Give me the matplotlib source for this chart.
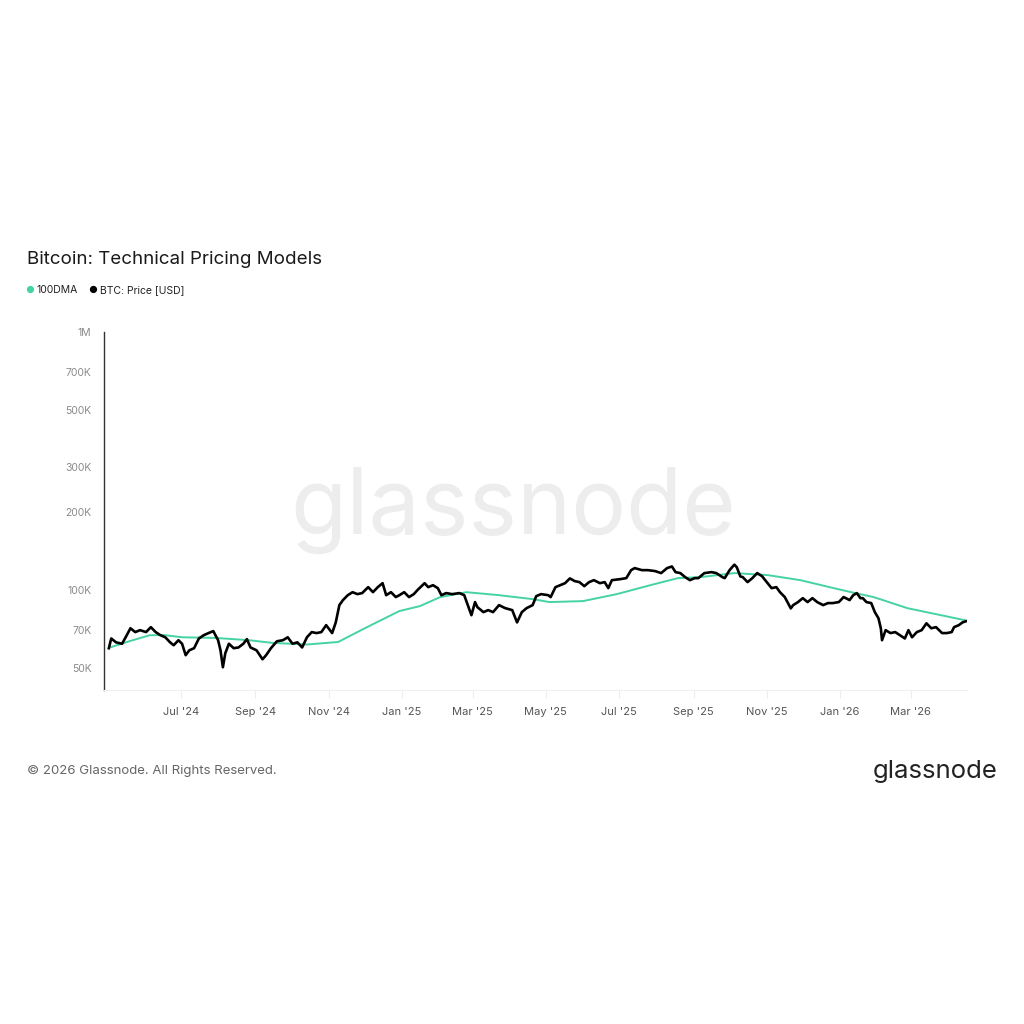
import matplotlib
matplotlib.use("Agg")
import matplotlib.pyplot as plt
import matplotlib.dates as mdates
import matplotlib.ticker as mticker
import pandas as pd

plt.rcParams['font.family'] = ['Inter', 'DejaVu Sans']

# BTC price (USD)
price_dates = [
    "2024-05-02", "2024-05-04", "2024-05-08", "2024-05-13", "2024-05-16", "2024-05-20",
    "2024-05-24", "2024-05-28", "2024-06-02", "2024-06-06", "2024-06-10", "2024-06-14",
    "2024-06-18", "2024-06-22", "2024-06-25", "2024-06-29", "2024-07-02", "2024-07-05",
    "2024-07-08", "2024-07-12", "2024-07-16", "2024-07-20", "2024-07-24", "2024-07-28",
    "2024-08-01", "2024-08-03", "2024-08-05", "2024-08-07", "2024-08-10", "2024-08-14",
    "2024-08-18", "2024-08-22", "2024-08-25", "2024-08-28", "2024-09-02", "2024-09-07",
    "2024-09-10", "2024-09-14", "2024-09-19", "2024-09-24", "2024-09-28", "2024-10-02",
    "2024-10-06", "2024-10-10", "2024-10-14", "2024-10-18", "2024-10-22", "2024-10-26",
    "2024-10-30", "2024-11-04", "2024-11-07", "2024-11-10", "2024-11-13", "2024-11-17",
    "2024-11-21", "2024-11-25", "2024-11-29", "2024-12-04", "2024-12-08", "2024-12-12",
    "2024-12-16", "2024-12-19", "2024-12-23", "2024-12-27", "2024-12-30", "2025-01-03",
    "2025-01-07", "2025-01-11", "2025-01-14", "2025-01-20", "2025-01-23", "2025-01-27",
    "2025-01-31", "2025-02-03", "2025-02-07", "2025-02-12", "2025-02-18", "2025-02-22",
    "2025-02-25", "2025-02-28", "2025-03-03", "2025-03-05", "2025-03-10", "2025-03-14",
    "2025-03-18", "2025-03-23", "2025-03-28", "2025-04-03", "2025-04-07", "2025-04-11",
    "2025-04-15", "2025-04-20", "2025-04-23", "2025-04-27", "2025-05-03", "2025-05-05",
    "2025-05-09", "2025-05-13", "2025-05-17", "2025-05-21", "2025-05-25", "2025-05-29",
    "2025-06-02", "2025-06-06", "2025-06-10", "2025-06-15", "2025-06-19", "2025-06-22",
    "2025-06-25", "2025-07-02", "2025-07-07", "2025-07-11", "2025-07-14", "2025-07-20",
    "2025-07-25", "2025-07-31", "2025-08-05", "2025-08-10", "2025-08-14", "2025-08-17",
    "2025-08-21", "2025-08-25", "2025-08-29", "2025-09-02", "2025-09-05", "2025-09-10",
    "2025-09-16", "2025-09-20", "2025-09-25", "2025-09-27", "2025-10-01", "2025-10-05",
    "2025-10-07", "2025-10-10", "2025-10-12", "2025-10-16", "2025-10-20", "2025-10-24",
    "2025-10-28", "2025-11-01", "2025-11-05", "2025-11-09", "2025-11-12", "2025-11-16",
    "2025-11-21", "2025-11-23", "2025-11-27", "2025-12-01", "2025-12-05", "2025-12-09",
    "2025-12-13", "2025-12-18", "2025-12-22", "2025-12-26", "2025-12-31", "2026-01-04",
    "2026-01-09", "2026-01-12", "2026-01-15", "2026-01-18", "2026-01-20", "2026-01-23",
    "2026-01-27", "2026-01-30", "2026-02-02", "2026-02-04", "2026-02-05", "2026-02-08",
    "2026-02-12", "2026-02-16", "2026-02-20", "2026-02-24", "2026-02-27", "2026-03-02",
    "2026-03-06", "2026-03-10", "2026-03-14", "2026-03-18", "2026-03-22", "2026-03-27",
    "2026-03-31", "2026-04-04", "2026-04-06", "2026-04-10", "2026-04-13", "2026-04-16",
]
price_vals = [
    59.6, 65.0, 62.8, 62.0, 65.7, 71.2,
    68.8, 70.0, 68.8, 71.9, 68.8, 66.9,
    65.7, 62.8, 61.2, 64.0, 62.0, 56.0,
    58.5, 59.6, 65.0, 66.9, 68.2, 69.4,
    64.0, 58.5, 50.3, 57.0, 62.0, 59.6,
    60.0, 62.0, 64.6, 60.0, 58.5, 54.0,
    56.0, 59.6, 63.4, 64.0, 65.7, 62.0,
    62.8, 60.0, 65.7, 68.8, 68.2, 68.8,
    73.2, 68.2, 75.0, 87.5, 91.5, 95.6,
    98.2, 96.5, 97.4, 102.7, 98.2, 102.7,
    106.4, 95.6, 98.2, 94.0, 95.6, 98.2,
    94.0, 96.5, 100.0, 106.4, 102.7, 104.5,
    101.8, 95.6, 97.4, 96.5, 97.4, 95.6,
    87.5, 80.0, 89.9, 85.9, 82.2, 83.7,
    82.2, 87.5, 85.2, 83.7, 75.0, 82.2,
    85.2, 87.5, 94.8, 96.5, 95.6, 94.0,
    102.7, 104.5, 106.4, 111.0, 108.4, 107.4,
    103.6, 107.4, 109.3, 106.4, 107.4, 101.8,
    109.3, 110.3, 111.3, 119.5, 121.7, 119.5,
    119.5, 118.5, 116.4, 121.7, 123.5, 117.4,
    116.4, 112.3, 109.3, 111.3, 111.3, 116.4,
    117.4, 116.4, 112.3, 111.3, 119.5, 125.5,
    122.7, 113.0, 112.3, 107.4, 111.3, 116.4,
    113.3, 107.4, 101.8, 102.7, 98.2, 94.0,
    85.0, 87.5, 89.9, 93.1, 89.9, 93.1,
    89.9, 87.5, 89.1, 89.1, 89.9, 94.0,
    91.5, 95.6, 97.4, 93.1, 93.1, 89.9,
    89.1, 82.2, 77.9, 71.2, 64.0, 70.0,
    68.2, 68.8, 66.9, 65.0, 70.0, 65.7,
    68.8, 70.0, 74.4, 71.2, 71.9, 68.2,
    68.2, 68.8, 71.9, 73.2, 75.0, 75.8,
]
price_vals = [v * 1000 for v in price_vals]

# 100-day moving average (USD)
dma_dates = [
    "2024-05-03", "2024-05-19", "2024-06-05", "2024-06-17", "2024-07-02", "2024-07-30",
    "2024-08-27", "2024-09-15", "2024-10-14", "2024-11-09", "2024-12-03", "2024-12-30",
    "2025-01-16", "2025-02-02", "2025-02-24", "2025-03-23", "2025-04-20", "2025-05-04",
    "2025-06-01", "2025-06-29", "2025-07-27", "2025-08-19", "2025-09-07", "2025-10-05",
    "2025-11-02", "2025-11-29", "2025-12-26", "2026-01-09", "2026-01-29", "2026-02-26",
    "2026-03-26", "2026-04-15",
]
dma_vals = [
    60.0, 63.4, 66.9, 67.0, 65.7, 65.3,
    64.0, 62.5, 61.6, 63.0, 71.9, 83.0,
    86.7, 94.0, 98.2, 95.6, 92.3, 89.9,
    90.7, 96.5, 104.5, 111.3, 112.3, 116.4,
    114.3, 109.3, 102.0, 98.5, 94.0, 85.2,
    80.0, 76.5,
]
dma_vals = [v * 1000 for v in dma_vals]

x_ticks = ["2024-07-01", "2024-09-01", "2024-11-01", "2025-01-01", "2025-03-01",
           "2025-05-01", "2025-07-01", "2025-09-01", "2025-11-01", "2026-01-01",
           "2026-03-01"]
y_ticks = [50e3, 70e3, 100e3, 200e3, 300e3, 500e3, 700e3, 1e6]
y_labels = ["50K", "70K", "100K", "200K", "300K", "500K", "700K", "1M"]

teal = "#45d3a4"

fig = plt.figure(figsize=(10.24, 10.24), dpi=100)
ax = fig.add_axes([0.1016, 0.326, 0.843, 0.350])

ax.plot(pd.to_datetime(dma_dates), dma_vals, color=teal, lw=1.4, zorder=2)
ax.plot(pd.to_datetime(price_dates), price_vals, color="black", lw=1.9, zorder=3)

ax.set_yscale("log")
ax.set_ylim(41000, 1e6)
ax.set_xlim(pd.Timestamp("2024-04-28"), pd.Timestamp("2026-04-17"))
ax.yaxis.set_major_locator(mticker.FixedLocator(y_ticks))
ax.yaxis.set_major_formatter(mticker.FixedFormatter(y_labels))
ax.yaxis.set_minor_locator(mticker.NullLocator())
ax.tick_params(axis="y", length=0, pad=9, labelsize=7.5, labelcolor="#8a8a8a")

ax.set_xticks(pd.to_datetime(x_ticks))
ax.xaxis.set_major_formatter(mdates.DateFormatter("%b '%y"))
ax.tick_params(axis="x", length=6, width=0.8, color="#eeeeee", pad=6,
               labelsize=8, labelcolor="#555555")

for s in ["top", "right"]:
    ax.spines[s].set_visible(False)
ax.spines["left"].set_color("#333333")
ax.spines["left"].set_linewidth(1.0)
ax.spines["bottom"].set_color("#f0f0f0")
ax.spines["bottom"].set_linewidth(0.8)

# watermark
fig.text(0.501, 0.502, "glassnode", fontsize=66, color="#ededed",
         ha="center", va="center", zorder=0)

# title and legend
fig.text(0.026, 0.747, "Bitcoin: Technical Pricing Models", fontsize=13.5,
         color="#1a1a1a", va="center")
fig.text(0.0293, 0.7165, "\u25cf", fontsize=7, color=teal, va="center", ha="center")
fig.text(0.036, 0.7165, "100DMA", fontsize=7.5, color="#222222", va="center")
fig.text(0.0908, 0.7165, "\u25cf", fontsize=7, color="black", va="center", ha="center")
fig.text(0.0977, 0.7165, "BTC: Price [USD]", fontsize=7.5, color="#222222", va="center")

# footer
fig.text(0.026, 0.2475, "\u00a9 2026 Glassnode. All Rights Reserved.", fontsize=9.5,
         color="#666666", va="center")
fig.text(0.974, 0.2465, "glassnode", fontsize=18.5, color="#222222",
         va="center", ha="right")

fig.savefig("out.png", dpi=100, facecolor="white")
